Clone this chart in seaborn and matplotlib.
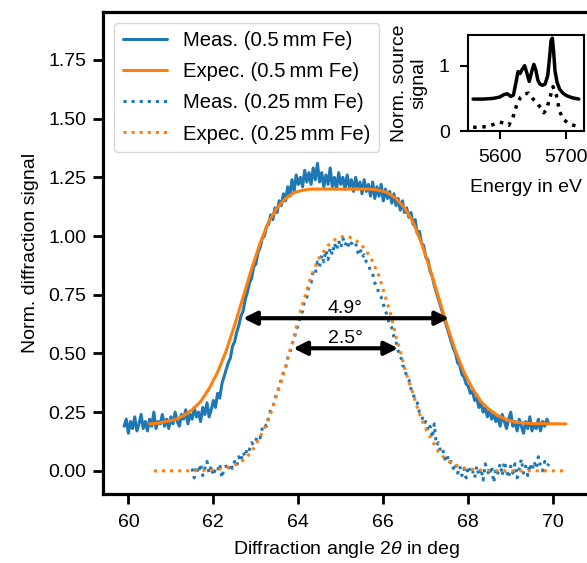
import numpy as np
import matplotlib
matplotlib.use('Agg')
import matplotlib.pyplot as plt
import seaborn as sns

# ---- data: 0.5 mm Fe, measured (angle grid in 0.05 deg steps) ----
ang_05 = np.round(np.arange(59.90, 69.91, 0.05), 2)
meas_05 = [
    0.19, 0.22, 0.16, 0.21, 0.18, 0.23, 0.17, 0.20, 0.24, 0.18,
    0.21, 0.17, 0.22, 0.19, 0.25, 0.18, 0.21, 0.20, 0.24, 0.19,
    0.22, 0.18, 0.23, 0.20, 0.25, 0.21, 0.19, 0.24, 0.22, 0.26,
    0.20, 0.24, 0.22, 0.27, 0.23, 0.25, 0.21, 0.27, 0.24, 0.29,
    0.23, 0.26, 0.30, 0.27, 0.33, 0.31, 0.37, 0.40, 0.43, 0.46,
    0.48, 0.53, 0.55, 0.59, 0.62, 0.66, 0.68, 0.73, 0.76, 0.80,
    0.82, 0.87, 0.88, 0.93, 0.95, 0.99, 1.00, 1.04, 1.05, 1.09,
    1.07, 1.12, 1.10, 1.15, 1.13, 1.18, 1.15, 1.21, 1.17, 1.24,
    1.19, 1.26, 1.22, 1.25, 1.21, 1.28, 1.23, 1.27, 1.22, 1.29,
    1.24, 1.31, 1.23, 1.27, 1.21, 1.26, 1.22, 1.29, 1.21, 1.25,
    1.20, 1.27, 1.22, 1.25, 1.20, 1.26, 1.21, 1.24, 1.19, 1.25,
    1.20, 1.23, 1.18, 1.24, 1.19, 1.22, 1.17, 1.23, 1.16, 1.21,
    1.17, 1.22, 1.15, 1.20, 1.16, 1.19, 1.14, 1.18, 1.13, 1.16,
    1.11, 1.15, 1.10, 1.12, 1.08, 1.10, 1.05, 1.07, 1.01, 1.02,
    0.97, 0.96, 0.91, 0.90, 0.85, 0.83, 0.79, 0.76, 0.73, 0.70,
    0.67, 0.64, 0.61, 0.58, 0.55, 0.52, 0.50, 0.46, 0.45, 0.41,
    0.40, 0.37, 0.36, 0.33, 0.34, 0.30, 0.31, 0.27, 0.29, 0.25,
    0.27, 0.23, 0.26, 0.22, 0.24, 0.21, 0.23, 0.19, 0.24, 0.21,
    0.18, 0.22, 0.25, 0.19, 0.21, 0.17, 0.22, 0.19, 0.16, 0.21,
    0.18, 0.23, 0.17, 0.20, 0.18, 0.22, 0.17, 0.21, 0.19, 0.22,
    0.20,
]

# ---- 0.5 mm Fe, expected ----
ang_exp_05 = [60.5, 60.7, 61.1, 61.3, 61.5, 61.7, 61.9, 62.1, 62.3, 62.5,
              62.7, 62.9, 63.1, 63.3, 63.5, 63.7, 63.9, 64.1, 64.3, 64.6,
              65.0, 65.4, 65.7, 65.9, 66.1, 66.3, 66.5, 66.7, 66.9, 67.1,
              67.3, 67.5, 67.7, 67.9, 68.1, 68.3, 68.5, 68.7, 68.9, 69.1,
              69.5, 70.3]
exp_05 = [0.20, 0.203, 0.218, 0.235, 0.26, 0.295, 0.35, 0.42, 0.51, 0.62,
          0.74, 0.86, 0.97, 1.06, 1.12, 1.16, 1.185, 1.195, 1.20, 1.20,
          1.20, 1.20, 1.20, 1.195, 1.185, 1.16, 1.12, 1.06, 0.97, 0.86,
          0.74, 0.62, 0.51, 0.42, 0.35, 0.295, 0.26, 0.235, 0.218, 0.207,
          0.201, 0.20]

# ---- 0.25 mm Fe, measured ----
ang_025 = np.round(np.arange(61.50, 69.91, 0.05), 2)
meas_025 = [
    0.01, -0.03, 0.02, -0.01, 0.03, -0.02, 0.01, 0.04, -0.01, 0.02,
    -0.02, 0.01, 0.00, 0.03, -0.03, 0.01, 0.02, 0.00, 0.03, 0.01,
    0.04, 0.02, 0.06, 0.04, 0.08, 0.06, 0.10, 0.09, 0.12, 0.11,
    0.13, 0.15, 0.14, 0.18, 0.20, 0.19, 0.23, 0.26, 0.27, 0.31,
    0.33, 0.36, 0.39, 0.42, 0.44, 0.48, 0.50, 0.54, 0.56, 0.60,
    0.62, 0.66, 0.68, 0.73, 0.74, 0.79, 0.80, 0.85, 0.84, 0.89,
    0.87, 0.92, 0.89, 0.94, 0.90, 0.95, 0.92, 0.97, 0.94, 0.98,
    0.95, 0.99, 0.96, 0.98, 0.95, 0.97, 0.96, 0.97, 0.93, 0.95,
    0.91, 0.92, 0.89, 0.88, 0.85, 0.84, 0.80, 0.79, 0.75, 0.74,
    0.71, 0.68, 0.66, 0.62, 0.61, 0.57, 0.55, 0.51, 0.50, 0.45,
    0.44, 0.40, 0.39, 0.35, 0.33, 0.30, 0.29, 0.25, 0.24, 0.20,
    0.21, 0.17, 0.19, 0.14, 0.20, 0.11, 0.12, 0.08, 0.09, 0.05,
    0.07, 0.03, 0.04, 0.01, 0.03, -0.01, 0.02, -0.02, 0.01, -0.03,
    0.02, -0.01, 0.00, -0.03, 0.02, -0.02, 0.01, -0.04, 0.03, 0.00,
    -0.02, 0.02, -0.05, 0.01, -0.01, 0.03, -0.02, 0.04, 0.00, -0.03,
    0.02, -0.01, 0.03, -0.03, 0.01, 0.05, -0.01, 0.02, -0.02, 0.03,
    0.00, 0.04, 0.01, 0.06, 0.02, 0.00, 0.04, 0.02, 0.03,
]

# ---- 0.25 mm Fe, expected ----
ang_exp_025 = [60.6, 61.5, 62.0, 62.3, 62.5, 62.7, 62.9, 63.1, 63.2, 63.3,
               63.4, 63.5, 63.6, 63.7, 63.8, 63.9, 64.0, 64.1, 64.2, 64.3,
               64.5, 64.7, 64.9, 65.1, 65.3, 65.5, 65.7, 65.9, 66.0, 66.1,
               66.2, 66.3, 66.4, 66.5, 66.6, 66.7, 66.8, 66.9, 67.0, 67.1,
               67.3, 67.5, 67.7, 67.9, 68.2, 68.6, 69.0, 70.3]
exp_025 = [0.0, 0.0, 0.004, 0.012, 0.025, 0.045, 0.08, 0.145, 0.18, 0.22,
           0.27, 0.33, 0.38, 0.44, 0.51, 0.57, 0.65, 0.71, 0.77, 0.83,
           0.91, 0.96, 0.99, 1.00, 0.99, 0.96, 0.91, 0.83, 0.77, 0.71,
           0.65, 0.57, 0.51, 0.44, 0.38, 0.33, 0.27, 0.22, 0.18, 0.145,
           0.08, 0.045, 0.025, 0.012, 0.004, 0.0, 0.0, 0.0]

# ---- inset: source spectra ----
energy_solid = [5560, 5575, 5590, 5600, 5607, 5612, 5617, 5621, 5625, 5628,
                5631, 5634, 5638, 5641, 5645, 5649, 5652, 5655, 5658, 5661,
                5665, 5669, 5673, 5676, 5678, 5680, 5682, 5684, 5687, 5691,
                5696, 5702, 5710, 5720]
source_solid = [0.49, 0.49, 0.50, 0.52, 0.56, 0.57, 0.53, 0.55, 0.75, 0.91,
                0.88, 0.94, 1.00, 0.90, 0.76, 0.92, 1.02, 0.93, 0.78, 0.72,
                0.70, 0.72, 0.85, 1.15, 1.38, 1.42, 1.20, 0.92, 0.75, 0.64,
                0.58, 0.54, 0.51, 0.49]
energy_dot = [5560, 5570, 5580, 5590, 5600, 5608, 5614, 5620, 5626, 5632,
              5638, 5644, 5650, 5656, 5662, 5667, 5671, 5676, 5681, 5686,
              5691, 5697, 5704, 5712, 5720]
source_dot = [0.06, 0.06, 0.07, 0.10, 0.14, 0.12, 0.09, 0.20, 0.40, 0.52,
              0.57, 0.58, 0.50, 0.44, 0.36, 0.28, 0.33, 0.50, 0.68, 0.55,
              0.30, 0.18, 0.12, 0.09, 0.07]

labels = ['Meas. (0.5\u2009mm Fe)', 'Expec. (0.5\u2009mm Fe)',
          'Meas. (0.25\u2009mm Fe)', 'Expec. (0.25\u2009mm Fe)']

# ---- style ----
sns.set_style('ticks')
plt.rcParams['font.family'] = ['Liberation Sans', 'DejaVu Sans']
plt.rcParams['mathtext.fontset'] = 'custom'
plt.rcParams['mathtext.rm'] = 'Liberation Sans'
plt.rcParams['mathtext.it'] = 'Liberation Sans:italic'
plt.rcParams['font.size'] = 14
for key in ['axes.edgecolor', 'xtick.color', 'ytick.color', 'text.color',
            'axes.labelcolor']:
    plt.rcParams[key] = 'black'

blue, orange = '#1f77b4', '#ff7f0e'
fs = 14

fig = plt.figure(figsize=(5.87, 5.63), dpi=100)
ax = fig.add_axes([0.176, 0.122, 0.828, 0.857])

sns.lineplot(x=ang_05, y=meas_05, ax=ax, color=blue, lw=2.2, label=labels[0])
sns.lineplot(x=ang_exp_05, y=exp_05, ax=ax, color=orange, lw=2.2, label=labels[1])
sns.lineplot(x=ang_025, y=meas_025, ax=ax, color=blue, lw=2.2, ls=':', label=labels[2])
sns.lineplot(x=ang_exp_025, y=exp_025, ax=ax, color=orange, lw=2.2, ls=':', label=labels[3])

# FWHM arrows
arrow_kw = dict(arrowstyle='<|-|>', color='k', lw=3, mutation_scale=20,
                shrinkA=0, shrinkB=0)
ax.annotate('', xy=(62.7, 0.65), xytext=(67.55, 0.65), arrowprops=arrow_kw)
ax.annotate('', xy=(63.88, 0.522), xytext=(66.35, 0.522), arrowprops=arrow_kw)
ax.text(65.1, 0.672, '4.9°', ha='center', va='baseline', fontsize=fs)
ax.text(65.1, 0.545, '2.5°', ha='center', va='baseline', fontsize=fs)

ax.set_xlim(59.41, 70.85)
ax.set_ylim(-0.1, 1.955)
ax.set_xticks([60, 62, 64, 66, 68, 70])
ax.set_yticks([0, 0.25, 0.5, 0.75, 1.0, 1.25, 1.5, 1.75])
ax.set_xlabel(r'Diffraction angle $2\theta$ in deg', fontsize=fs, labelpad=6)
ax.set_ylabel('Norm. diffraction signal', fontsize=fs, labelpad=7)
for s in ax.spines.values():
    s.set_linewidth(2.3)
ax.tick_params(width=2, length=7, labelsize=fs)
ax.tick_params(axis='x', pad=7)
ax.tick_params(axis='y', pad=5)

ax.legend(loc='upper left', fontsize=14.6, handlelength=2.2, labelspacing=0.6,
          frameon=True, borderaxespad=0.55)

# ---- inset ----
axin = fig.add_axes([0.797, 0.767, 0.198, 0.171])
sns.lineplot(x=energy_solid, y=source_solid, ax=axin, color='k', lw=2.5)
sns.lineplot(x=energy_dot, y=source_dot, ax=axin, color='k', lw=2.5, ls=':')
axin.set_xlim(5552, 5728)
axin.set_ylim(0, 1.47)
axin.set_xticks([5600, 5700])
axin.set_yticks([0, 1])
axin.set_xlabel('Energy in eV', fontsize=fs, labelpad=9)
axin.set_ylabel('Norm. source\nsignal', fontsize=fs, labelpad=8)
for s in axin.spines.values():
    s.set_linewidth(1.5)
axin.tick_params(width=1.5, length=6, labelsize=fs, pad=7)

fig.savefig('out.png', dpi=100)
